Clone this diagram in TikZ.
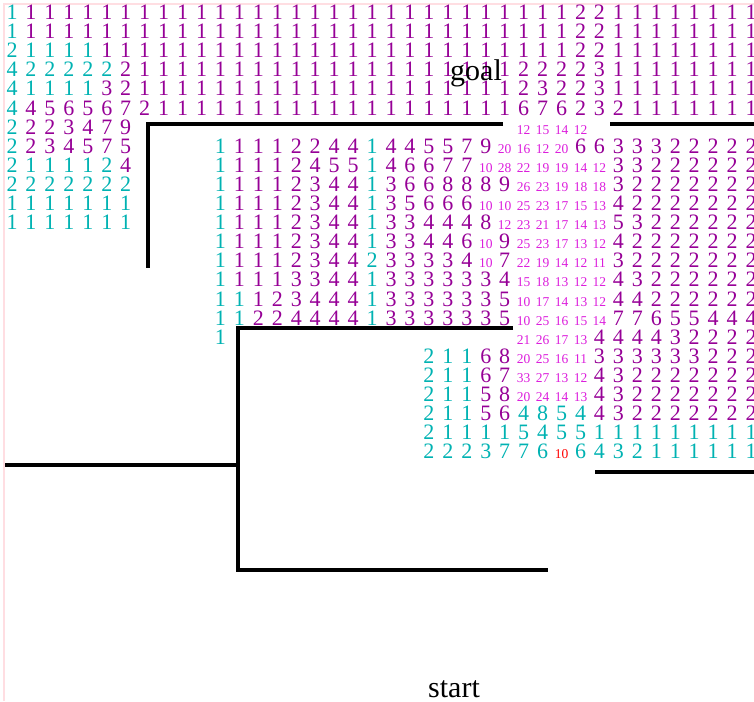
\documentclass[tikz,border=0pt]{standalone}
\usepackage{fontspec}
\setmainfont{Liberation Serif}
\definecolor{cellpurple}{RGB}{150,0,150}
\definecolor{cellcyan}{RGB}{0,178,178}
\definecolor{cellmagenta}{RGB}{220,30,220}
\definecolor{cellred}{RGB}{255,0,0}
\definecolor{framepink}{RGB}{255,222,226}

\begin{document}
\begin{tikzpicture}[x=1pt, y=-1pt,
numbig/.style={anchor=base, inner sep=0pt, font=\fontsize{22}{22}\selectfont},
nump/.style={numbig, text=cellpurple},
numc/.style={numbig, text=cellcyan},
numm/.style={anchor=base, inner sep=0pt, font=\fontsize{13.5}{13.5}\selectfont, text=cellmagenta},
numr/.style={numm, text=cellred},
wall/.style={line width=4pt, black},
endtext/.style={anchor=base, inner sep=0pt, font=\fontsize{30}{30}\selectfont}
]
\useasboundingbox (0,0) rectangle (754,701);
\draw[framepink, line width=2pt] (4,701) -- (4,4) -- (754,4);

% cells: row / first column / colour / values
\foreach \r/\s/\k/\vals in {
0/0/c/{1}, 0/1/p/{1,1,1,1,1,1,1,1,1,1,1,1,1,1,1,1,1,1,1,1,1,1,1,1,1,1,1,1,1}, 0/30/p/{2,2,1,1,1,1,1,1,1,1},
1/0/c/{1}, 1/1/p/{1,1,1,1,1,1,1,1,1,1,1,1,1,1,1,1,1,1,1,1,1,1,1,1,1,1,1,1,1}, 1/30/p/{2,2,1,1,1,1,1,1,1,1},
2/0/c/{2,1,1,1,1}, 2/5/p/{1,1,1,1,1,1,1,1,1,1,1,1,1,1,1,1,1,1,1,1,1,1,1,1,1}, 2/30/p/{2,2,1,1,1,1,1,1,1,1},
3/0/c/{4,2,2,2,2,2}, 3/6/p/{2}, 3/7/p/{1,1,1,1,1,1,1,1,1,1,1,1,1,1,1,1,1,1,1,1}, 3/27/p/{2,2,2,2,3,1,1,1,1,1,1,1,1},
4/0/c/{4,1,1,1,1}, 4/5/p/{3,2}, 4/7/p/{1,1,1,1,1,1,1,1,1,1,1,1,1,1,1,1,1,1,1,1}, 4/27/p/{2,3,2,2,3,1,1,1,1,1,1,1,1},
5/0/c/{4}, 5/1/p/{4,5,6,5,6,7,2}, 5/8/p/{1,1,1,1,1,1,1,1,1,1,1,1,1,1,1,1,1,1,1}, 5/27/p/{6,7,6,2,3,2,1,1,1,1,1,1,1},
6/0/c/{2}, 6/1/p/{2,2,3,4,7,9}, 6/27/m/{12,15,14,12},
7/0/c/{2}, 7/1/p/{2,3,4,5,7,5}, 7/11/c/{1}, 7/12/p/{1,1,1,2,2,4,4}, 7/19/c/{1}, 7/20/p/{4,4,5,5,7,9}, 7/26/m/{20,16,12,20}, 7/30/p/{6,6,3,3,3,2,2,2,2,2},
8/0/c/{2,1,1,1,1,2}, 8/6/p/{4}, 8/11/c/{1}, 8/12/p/{1,1,1,2,4,5,5}, 8/19/c/{1}, 8/20/p/{4,6,6,7,7}, 8/25/m/{10,28,22,19,19,14,12}, 8/32/p/{3,3,2,2,2,2,2,2},
9/0/c/{2,2,2,2,2,2,2}, 9/11/c/{1}, 9/12/p/{1,1,1,2,3,4,4}, 9/19/c/{1}, 9/20/p/{3,6,6,8,8,8,9}, 9/27/m/{26,23,19,18,18}, 9/32/p/{3,2,2,2,2,2,2,2},
10/0/c/{1,1,1,1,1,1,1}, 10/11/c/{1}, 10/12/p/{1,1,1,2,3,4,4}, 10/19/c/{1}, 10/20/p/{3,5,6,6,6}, 10/25/m/{10,10,25,23,17,15,13}, 10/32/p/{4,2,2,2,2,2,2,2},
11/0/c/{1,1,1,1,1,1,1}, 11/11/c/{1}, 11/12/p/{1,1,1,2,3,4,4}, 11/19/c/{1}, 11/20/p/{3,3,4,4,4,8}, 11/26/m/{12,23,21,17,14,13}, 11/32/p/{5,3,2,2,2,2,2,2},
12/11/c/{1}, 12/12/p/{1,1,1,2,3,4,4}, 12/19/c/{1}, 12/20/p/{3,3,4,4,6}, 12/25/m/{10}, 12/26/p/{9}, 12/27/m/{25,23,17,13,12}, 12/32/p/{4,2,2,2,2,2,2,2},
13/11/c/{1}, 13/12/p/{1,1,1,2,3,4,4}, 13/19/c/{2}, 13/20/p/{3,3,3,3,4}, 13/25/m/{10}, 13/26/p/{7}, 13/27/m/{22,19,14,12,11}, 13/32/p/{3,2,2,2,2,2,2,2},
14/11/c/{1}, 14/12/p/{1,1,1,3,3,4,4}, 14/19/c/{1}, 14/20/p/{3,3,3,3,3,3,4}, 14/27/m/{15,18,13,12,12}, 14/32/p/{4,3,2,2,2,2,2,2},
15/11/c/{1,1}, 15/13/p/{1,2,3,4,4,4}, 15/19/c/{1}, 15/20/p/{3,3,3,3,3,3,5}, 15/27/m/{10,17,14,13,12}, 15/32/p/{4,4,2,2,2,2,2,2},
16/11/c/{1,1}, 16/13/p/{2,2,4,4,4,4}, 16/19/c/{1}, 16/20/p/{3,3,3,3,3,3,5}, 16/27/m/{10,25,16,15,14}, 16/32/p/{7,7,6,5,5,4,4,4},
17/11/c/{1}, 17/27/m/{21,26,17,13}, 17/31/p/{4,4,4,4,3,2,2,2,2},
18/22/c/{2,1,1}, 18/25/p/{6,8}, 18/27/m/{20,25,16,11}, 18/31/p/{3,3,3,3,3,3,2,2,2},
19/22/c/{2,1,1}, 19/25/p/{6,7}, 19/27/m/{33,27,13,12}, 19/31/p/{4,3,2,2,2,2,2,2,2},
20/22/c/{2,1,1}, 20/25/p/{5,8}, 20/27/m/{20,24,14,13}, 20/31/p/{4,3,2,2,2,2,2,2,2},
21/22/c/{2,1,1}, 21/25/p/{5,6}, 21/27/c/{4,8,5,4}, 21/31/p/{4,3,2,2,2,2,2,2,2},
22/22/c/{2,1,1,1,1,5,4,5,5}, 22/31/c/{1,1,1,1,1,1,1,1,1},
23/22/c/{2,2,2,3,7,7,6}, 23/29/r/{10}, 23/30/c/{6,4,3,2,1,1,1,1,1,1}}{
\foreach \v [count=\i from \s] in \vals
\node[num\k] (c\r-\i) at ({12+18.95*\i}, {19.5+19.1*\r}) {\v};
}

% walls
\draw[wall] (503,124) -- (148,124) -- (148,268);
\draw[wall] (610,124) -- (754,124);
\draw[wall] (513,328) -- (238,328) -- (238,570) -- (548,570);
\draw[wall] (5,465) -- (238,465);
\draw[wall] (595,472) -- (754,472);

\node[endtext] (goal) at (476,80) {goal};
\node[endtext] (start) at (454,697) {start};
\end{tikzpicture}
\end{document}
